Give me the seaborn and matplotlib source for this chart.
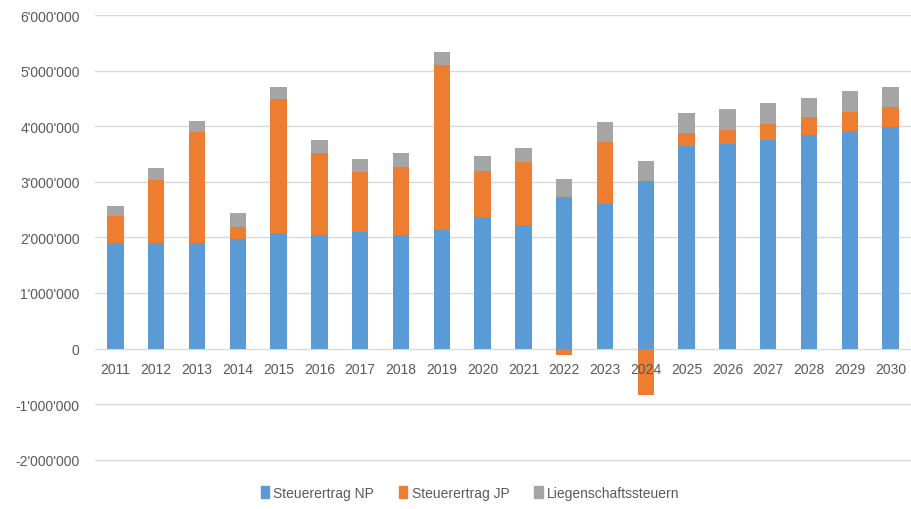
import pandas as pd
import numpy as np
import seaborn as sns
import matplotlib.pyplot as plt
from matplotlib.ticker import FuncFormatter
from matplotlib.patches import Patch

years = [str(y) for y in range(2011, 2031)]
np_vals = [1.90, 1.90, 1.90, 1.98, 2.07, 2.05, 2.10, 2.05, 2.13, 2.36,
           2.22, 2.72, 2.60, 3.01, 3.64, 3.68, 3.75, 3.84, 3.92, 3.99]
jp_vals = [0.48, 1.13, 2.00, 0.21, 2.42, 1.46, 1.08, 1.22, 2.97, 0.84,
           1.13, -0.11, 1.12, -0.84, 0.24, 0.245, 0.29, 0.32, 0.34, 0.36]
lst_vals = [0.19, 0.21, 0.20, 0.24, 0.21, 0.24, 0.23, 0.24, 0.23, 0.26,
            0.26, 0.33, 0.36, 0.36, 0.35, 0.38, 0.38, 0.35, 0.38, 0.35]
labels = ["Steuerertrag NP", "Steuerertrag JP", "Liegenschaftssteuern"]
colors = ["#5B9BD5", "#ED7D31", "#A5A5A5"]

df = pd.DataFrame({"Jahr": years,
                   "NP": np.array(np_vals) * 1e6,
                   "JP": np.array(jp_vals) * 1e6,
                   "L": np.array(lst_vals) * 1e6})

sns.set_style("white")
plt.rcParams['font.family'] = ['Liberation Sans', 'DejaVu Sans']

fig = plt.figure(figsize=(9.11, 5.10), dpi=100)
ax = fig.add_axes([95 / 911, 1 - 463 / 510, 816 / 911, 447 / 510])

jp_bottom = np.where(df["JP"] >= 0, df["NP"], 0)
l_bottom = df["NP"] + df["JP"].clip(lower=0)

sns.barplot(data=df, x="Jahr", y="NP", color=colors[0], width=0.4,
            saturation=1, ax=ax, zorder=3, linewidth=0)
sns.barplot(data=df, x="Jahr", y="JP", color=colors[1], width=0.4,
            saturation=1, ax=ax, zorder=3, linewidth=0, bottom=jp_bottom)
sns.barplot(data=df, x="Jahr", y="L", color=colors[2], width=0.4,
            saturation=1, ax=ax, zorder=3, linewidth=0, bottom=l_bottom)

ax.set_ylim(-2.04e6, 6e6)
ax.set_xlim(-0.5, len(years) - 0.5)
ax.set_yticks(np.arange(-2e6, 6.1e6, 1e6))
ax.yaxis.set_major_formatter(FuncFormatter(lambda v, p: f"{int(round(v)):,}".replace(",", "'")))
ax.grid(axis="y", color="#D9D9D9", linewidth=1, zorder=0)
ax.set_xlabel("")
ax.set_ylabel("")
for s in ax.spines.values():
    s.set_visible(False)
ax.tick_params(axis="both", length=0, labelsize=10, colors="#595959")
ax.tick_params(axis="y", pad=11)

# x labels sit just below zero line
ax.set_xticks(range(len(years)))
ax.set_xticklabels([])
for i, y in enumerate(years):
    ax.text(i, -0.36e6, y, ha="center", va="center", fontsize=10, color="#595959", zorder=4)

handles = [Patch(color=c) for c in colors]
fig.legend(handles, labels, loc="center", bbox_to_anchor=(470 / 911, 1 - 494 / 510),
           ncol=3, frameon=False, fontsize=10, handlelength=0.6, handleheight=0.9,
           handletextpad=0.3, columnspacing=1.8, labelcolor="#595959")

fig.savefig("out.png", dpi=100)
